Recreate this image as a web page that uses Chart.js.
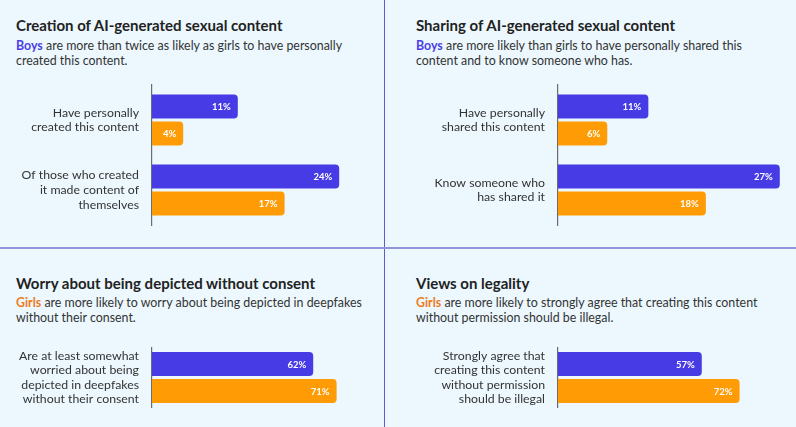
<!DOCTYPE html>
<html>
<head>
<meta charset="utf-8">
<script src="https://cdn.jsdelivr.net/npm/chart.js@4.4.1/dist/chart.umd.min.js"></script>
<style>
  html,body{margin:0;padding:0;}
  body{width:796px;height:427px;background:#ecf8fe;position:relative;overflow:hidden;font-family:Lato,"Noto Sans",sans-serif;}
  .title{position:absolute;font-weight:700;font-size:15px;line-height:18px;color:#222;white-space:nowrap;}
  .sub{position:absolute;font-size:12.4px;line-height:14.5px;color:#333;white-space:nowrap;}
  .boys{color:#4b40e3;font-weight:700;}
  .girls{color:#ec7a1c;font-weight:700;}
  .vline{position:absolute;left:383.5px;top:0;width:1.5px;height:427px;background:#5d5dcf;}
  .hline{position:absolute;left:0;top:246.5px;width:796px;height:2px;background:#8e94da;}
  .box{position:absolute;}
</style>
</head>
<body>
<div class="vline"></div>
<div class="hline"></div>

<div class="title" style="left:16px;top:16px;">Creation of AI-generated sexual content</div>
<div class="sub" style="left:16px;top:39px;"><span class="boys">Boys</span> are more than twice as likely as girls to have personally<br>created this content.</div>

<div class="title" style="left:416px;top:16px;">Sharing of AI-generated sexual content</div>
<div class="sub" style="left:416px;top:39px;"><span class="boys">Boys</span> are more likely than girls to have personally shared this<br>content and to know someone who has.</div>

<div class="title" style="left:16px;top:274px;">Worry about being depicted without consent</div>
<div class="sub" style="left:16px;top:296px;"><span class="girls">Girls</span> are more likely to worry about being depicted in deepfakes<br>without their consent.</div>

<div class="title" style="left:416px;top:274px;">Views on legality</div>
<div class="sub" style="left:416px;top:296px;"><span class="girls">Girls</span> are more likely to strongly agree that creating this content<br>without permission should be illegal.</div>

<div class="box" style="left:0;top:75px;width:392px;height:160px;"><canvas id="c1"></canvas></div>
<div class="box" style="left:396px;top:75px;width:396px;height:160px;"><canvas id="c2"></canvas></div>
<div class="box" style="left:0;top:338px;width:392px;height:80px;"><canvas id="c3"></canvas></div>
<div class="box" style="left:396px;top:338px;width:396px;height:80px;"><canvas id="c4"></canvas></div>

<script>
// ---- data ----
const creationCategories = [["Have personally","created this content"],["Of those who created","it made content of","themselves"]];
const creationBoys = [11, 24];
const creationGirls = [4, 17];

const sharingCategories = [["Have personally","shared this content"],["Know someone who","has shared it"]];
const sharingBoys = [11, 27];
const sharingGirls = [6, 18];

const worryCategories = [["Are at least somewhat","worried about being","depicted in deepfakes","without their consent"]];
const worryBoys = [62];
const worryGirls = [71];

const legalityCategories = [["Strongly agree that","creating this content","without permission","should be illegal"]];
const legalityBoys = [57];
const legalityGirls = [72];

const seriesNames = ["Boys", "Girls"];
const BLUE = "#463be5";
const ORANGE = "#ff9b05";

const valueLabels = {
  id: "valueLabels",
  afterDatasetsDraw(chart) {
    const ctx = chart.ctx;
    ctx.save();
    ctx.fillStyle = "#ffffff";
    ctx.font = "700 9.5px Lato, 'Noto Sans', sans-serif";
    ctx.textAlign = "right";
    ctx.textBaseline = "middle";
    chart.data.datasets.forEach((ds, di) => {
      const meta = chart.getDatasetMeta(di);
      meta.data.forEach((el, i) => {
        ctx.fillText(ds.data[i] + "%", el.x - 7, el.y + 0.5);
      });
    });
    ctx.restore();
  }
};

function makeChart(id, cats, boys, girls, xmax, axisLeft, catPct, padRight, padTop, padBottom) {
  return new Chart(document.getElementById(id), {
    type: "bar",
    data: {
      labels: cats,
      datasets: [
        { label: seriesNames[0], data: boys, backgroundColor: BLUE, borderRadius: 4, borderSkipped: "start",
          categoryPercentage: catPct, barPercentage: 0.889 },
        { label: seriesNames[1], data: girls, backgroundColor: ORANGE, borderRadius: 4, borderSkipped: "start",
          categoryPercentage: catPct, barPercentage: 0.889 }
      ]
    },
    options: {
      indexAxis: "y",
      responsive: true,
      maintainAspectRatio: false,
      animation: false,
      events: [],
      layout: { padding: { left: 0, right: padRight, top: padTop, bottom: padBottom } },
      plugins: { legend: { display: false }, tooltip: { enabled: false }, title: { display: false } },
      scales: {
        x: { display: false, min: 0, max: xmax },
        y: {
          grid: { display: false, drawTicks: false },
          border: { display: true, color: "#6b6b6b", width: 1.2 },
          ticks: { color: "#333", padding: 13, font: { family: "Lato, 'Noto Sans', sans-serif", size: 12.3, lineHeight: 1.19 } },
          afterFit(scale) { scale.width = axisLeft; scale.paddingTop = 0; scale.paddingBottom = 0; }
        }
      }
    },
    plugins: [valueLabels]
  });
}

makeChart("c1", creationCategories, creationBoys, creationGirls, 30, 152, 0.771, 6, 10, 10);
makeChart("c2", sharingCategories, sharingBoys, sharingGirls, 28, 162, 0.771, 4, 10, 10);
makeChart("c3", worryCategories, worryBoys, worryGirls, 90, 152, 0.915, 6, 10, 11);
makeChart("c4", legalityCategories, legalityBoys, legalityGirls, 90, 162, 0.915, 7, 10, 11);
</script>
</body>
</html>
